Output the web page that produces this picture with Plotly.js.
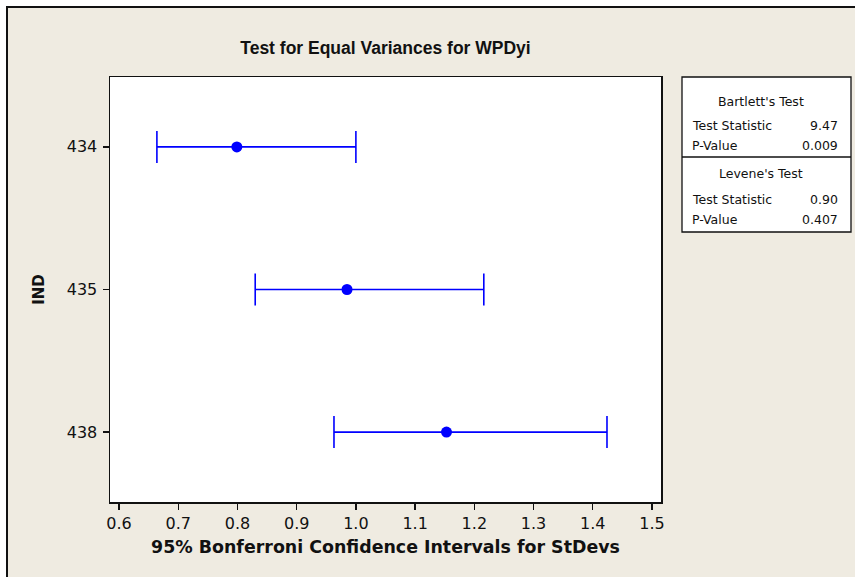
<!DOCTYPE html>
<html>
<head>
<meta charset="utf-8">
<script src="https://cdn.plot.ly/plotly-3.0.1.min.js"></script>
<style>
  html, body { margin: 0; padding: 0; background: #ffffff; }
  #frame { position: absolute; left: 6px; top: 6px; width: 849px; height: 571px;
           background: #efebe1; border-left: 2px solid #111; border-top: 2px solid #111; box-sizing: border-box; }
  #plot { position: absolute; left: 0; top: 0; width: 855px; height: 577px; }
</style>
</head>
<body>
<div id="frame"></div>
<div id="plot"></div>
<script>
// ---- data ----
const groups = ["434", "435", "438"];
const stdevs = [0.799, 0.985, 1.153];
const lower = [0.664, 0.830, 0.963];
const upper = [1.000, 1.216, 1.424];

const bartlettStat = "9.47";
const bartlettP = "0.009";
const leveneStat = "0.90";
const leveneP = "0.407";

const xTicks = [0.6, 0.7, 0.8, 0.9, 1.0, 1.1, 1.2, 1.3, 1.4, 1.5];

// ---- layout helpers ----
const W = 855, H = 577;
const M = { l: 110, r: 194, t: 77, b: 75 };
const pw = W - M.l - M.r, ph = H - M.t - M.b;
const px = x => (x - M.l) / pw;
const py = y => (H - M.b - y) / ph;

const FONT = "DejaVu Sans, Verdana, sans-serif";
const TFONT = "Liberation Sans, Arial, sans-serif";

const trace = {
  type: "scatter",
  mode: "markers",
  x: stdevs,
  y: groups,
  marker: { color: "#0000ff", size: 11 },
  error_x: {
    type: "data",
    symmetric: false,
    array: upper.map((u, i) => u - stdevs[i]),
    arrayminus: lower.map((l, i) => stdevs[i] - l),
    color: "#0000ff",
    thickness: 1.6,
    width: 16
  },
  hoverinfo: "none",
  cliponaxis: false
};

const shapes = [
  { type: "rect", xref: "paper", yref: "paper", x0: px(682), x1: px(851), y0: py(77), y1: py(232),
    line: { color: "#111", width: 1.3 }, fillcolor: "#ffffff", layer: "below" },
  { type: "line", xref: "paper", yref: "paper", x0: px(682), x1: px(851), y0: py(157), y1: py(157),
    line: { color: "#111", width: 1.3 } }
];

function txt(text, x, y, anchor, size) {
  return { xref: "paper", yref: "paper", x: px(x), y: py(y), text: text,
    showarrow: false, xanchor: anchor, yanchor: "middle",
    font: { family: FONT, size: size, color: "#111" } };
}

const LS = 12.5;
const annotations = [
  txt("Bartlett's Test", 761, 101, "center", LS),
  txt("Test Statistic", 690, 126, "left", LS),
  txt(bartlettStat, 840, 126, "right", LS),
  txt("P-Value", 690, 145, "left", LS),
  txt(bartlettP, 840, 145, "right", LS),
  txt("Levene's Test", 761, 173, "center", LS),
  txt("Test Statistic", 690, 199, "left", LS),
  txt(leveneStat, 840, 199, "right", LS),
  txt("P-Value", 690, 219, "left", LS),
  txt(leveneP, 840, 219, "right", LS)
];

const layout = {
  width: W, height: H,
  margin: M,
  paper_bgcolor: "rgba(0,0,0,0)",
  plot_bgcolor: "#ffffff",
  showlegend: false,
  title: {
    text: "<b>Test for Equal Variances for WPDyi</b>",
    font: { family: TFONT, size: 17.5, color: "#111" },
    x: 0.5, xref: "paper", xanchor: "center",
    y: 1 - 48 / H, yanchor: "middle"
  },
  xaxis: {
    range: [0.5848, 1.5152],
    tickvals: xTicks,
    ticktext: xTicks.map(v => v.toFixed(1)),
    ticks: "outside", ticklen: 6, tickwidth: 1.3, tickcolor: "#111",
    showgrid: false, zeroline: false,
    showline: true, linecolor: "#111", linewidth: 1.5, mirror: true,
    tickfont: { family: FONT, size: 16, color: "#111" },
    title: { text: "<b>95% Bonferroni Confidence Intervals for StDevs</b>",
             font: { family: FONT, size: 17.4, color: "#111" }, standoff: 9 }
  },
  yaxis: {
    type: "category",
    categoryorder: "array",
    categoryarray: groups,
    range: [2.49, -0.49],
    ticks: "outside", ticklen: 6, tickwidth: 1.3, tickcolor: "#111",
    showgrid: false, zeroline: false,
    showline: true, linecolor: "#111", linewidth: 1.5, mirror: true,
    tickfont: { family: FONT, size: 16, color: "#111" },
    ticklabelstandoff: 2,
    title: { text: "<b>IND</b>", font: { family: FONT, size: 15, color: "#111" }, standoff: 18 }
  },
  shapes: shapes,
  annotations: annotations
};

Plotly.newPlot("plot", [trace], layout, { displayModeBar: false, staticPlot: true });
</script>
</body>
</html>
